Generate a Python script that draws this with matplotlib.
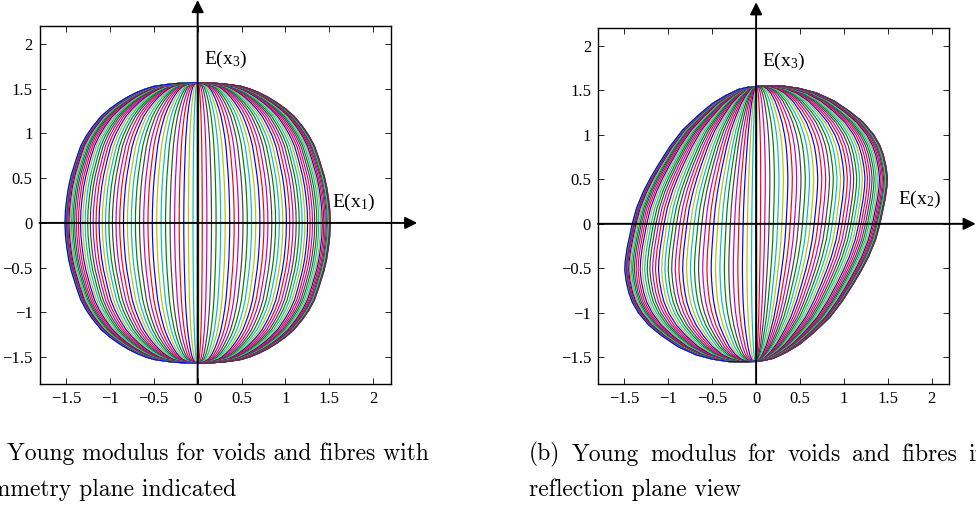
import numpy as np
import matplotlib.pyplot as plt

plt.rcParams['font.family'] = ['Liberation Serif', 'DejaVu Serif']
plt.rcParams['mathtext.fontset'] = 'stix'
plt.rcParams['mathtext.default'] = 'regular'

# outline of the Young modulus surface, right half, from north pole to south pole
# (a) symmetry plane view: top quarter, mirrored to the bottom and to the left
a_x = [0.00, 0.10, 0.20, 0.30, 0.40, 0.50, 0.60, 0.70, 0.80, 0.90, 1.00,
       1.10, 1.20, 1.27, 1.33, 1.38, 1.44, 1.47, 1.49, 1.505, 1.51]
a_z = [1.566, 1.564, 1.56, 1.553, 1.54, 1.525, 1.495, 1.455, 1.405, 1.345,
       1.275, 1.19, 1.07, 0.97, 0.86, 0.72, 0.53, 0.40, 0.27, 0.14, 0.00]

# (b) reflection plane view: whole right half, point reflected to the left
b_x = [0.00, 0.15, 0.31, 0.50, 0.69, 0.89, 1.07, 1.22, 1.34, 1.41, 1.45,
       1.48, 1.495, 1.49, 1.47, 1.44, 1.41, 1.36, 1.28, 1.20, 1.11, 0.98,
       0.84, 0.67, 0.50, 0.35, 0.20, 0.09, 0.00]
b_z = [1.54, 1.548, 1.548, 1.52, 1.47, 1.38, 1.26, 1.14, 1.00, 0.88, 0.77,
       0.64, 0.52, 0.42, 0.28, 0.14, 0.00, -0.18, -0.37, -0.52, -0.67, -0.87,
       -1.05, -1.21, -1.35, -1.44, -1.51, -1.535, -1.54]

# meridian step of the mesh (degrees)
mesh_step = 2.0

ticks = [-1.5, -1, -0.5, 0, 0.5, 1, 1.5, 2]
tick_labels = ['\u22121.5', '\u22121', '\u22120.5', '0', '0.5', '1', '1.5', '2']

matlab_colors = [(0, 0, 1), (0, 0.5, 0), (1, 0, 0), (0, 0.75, 0.75),
                 (0.75, 0, 0.75), (0.75, 0.75, 0), (0.25, 0.25, 0.25)]

fig = plt.figure(figsize=(9.76, 5.11), dpi=100)
ax1 = fig.add_axes([0.0405, 0.2485, 0.360, 0.7006])
ax2 = fig.add_axes([0.6127, 0.2485, 0.360, 0.6966])

# full right halves
ra_x = np.array(a_x + a_x[-2::-1])
ra_z = np.array(a_z + [-z for z in a_z[-2::-1]])
la_x, la_z = -ra_x, ra_z

rb_x = np.array(b_x)
rb_z = np.array(b_z)
lb_x, lb_z = -rb_x[::-1], -rb_z[::-1]

scales = np.sin(np.radians(np.arange(0, 90 + 1e-9, mesh_step)))


def draw(ax, rx, rz, lx, lz, xlab, tx, ty):
    k = 0
    for s in scales:
        for sx, sz in ((rx, rz), (lx, lz)):
            ax.plot(sx * s, sz, color=matlab_colors[k % 7], lw=0.85)
            k += 1
    ax.set_xlim(-1.8, 2.2)
    ax.set_ylim(-1.8, 2.2)
    ax.set_xticks(ticks)
    ax.set_xticklabels(tick_labels)
    ax.set_yticks(ticks)
    ax.set_yticklabels(tick_labels)
    ax.tick_params(direction='in', top=True, right=True, labelsize=12,
                   length=4, width=0.6, pad=5)
    for sp in ax.spines.values():
        sp.set_linewidth(1.0)
    # axis arrows
    ax.annotate('', xy=(2.5, 0), xytext=(-1.8, 0), annotation_clip=False,
                arrowprops=dict(arrowstyle='-|>', color='k', lw=1.4,
                                mutation_scale=18, shrinkA=0, shrinkB=0),
                zorder=10)
    ax.annotate('', xy=(0, 2.49), xytext=(0, -1.8), annotation_clip=False,
                arrowprops=dict(arrowstyle='-|>', color='k', lw=1.4,
                                mutation_scale=18, shrinkA=0, shrinkB=0),
                zorder=10)
    ax.text(0.07, 1.83, 'E(x$_3$)', fontsize=14, va='center', ha='left')
    ax.text(tx, ty, xlab, fontsize=14, va='center', ha='left')


draw(ax1, ra_x, ra_z, la_x, la_z, 'E(x$_1$)', 1.53, 0.23)
draw(ax2, rb_x, rb_z, lb_x, lb_z, 'E(x$_2$)', 1.62, 0.27)

cap = dict(family='cmr10', fontsize=17, va='center', ha='left')
fig.text(-0.032, 0.11, '(a) Young modulus for voids and fibres with', **cap)
fig.text(-0.032, 0.041, 'symmetry plane indicated', **cap)
fig.text(0.542, 0.041, 'reflection plane view', **cap)

# justified first line of caption (b): words spread from 529 px to 968 px
words_b = ['(b)', 'Young', 'modulus', 'for', 'voids', 'and', 'fibres', 'in']
W = fig.get_figwidth() * fig.dpi
renderer = fig.canvas.get_renderer()
items = [fig.text(0, 0.11, w, **cap) for w in words_b]
widths = [t.get_window_extent(renderer).width for t in items]
gap = (968 - 529 - sum(widths[:-1])) / (len(words_b) - 1)
x = 529
for t, w in zip(items, widths):
    t.set_x(x / W)
    x += w + gap

fig.savefig('out.png', dpi=100)
